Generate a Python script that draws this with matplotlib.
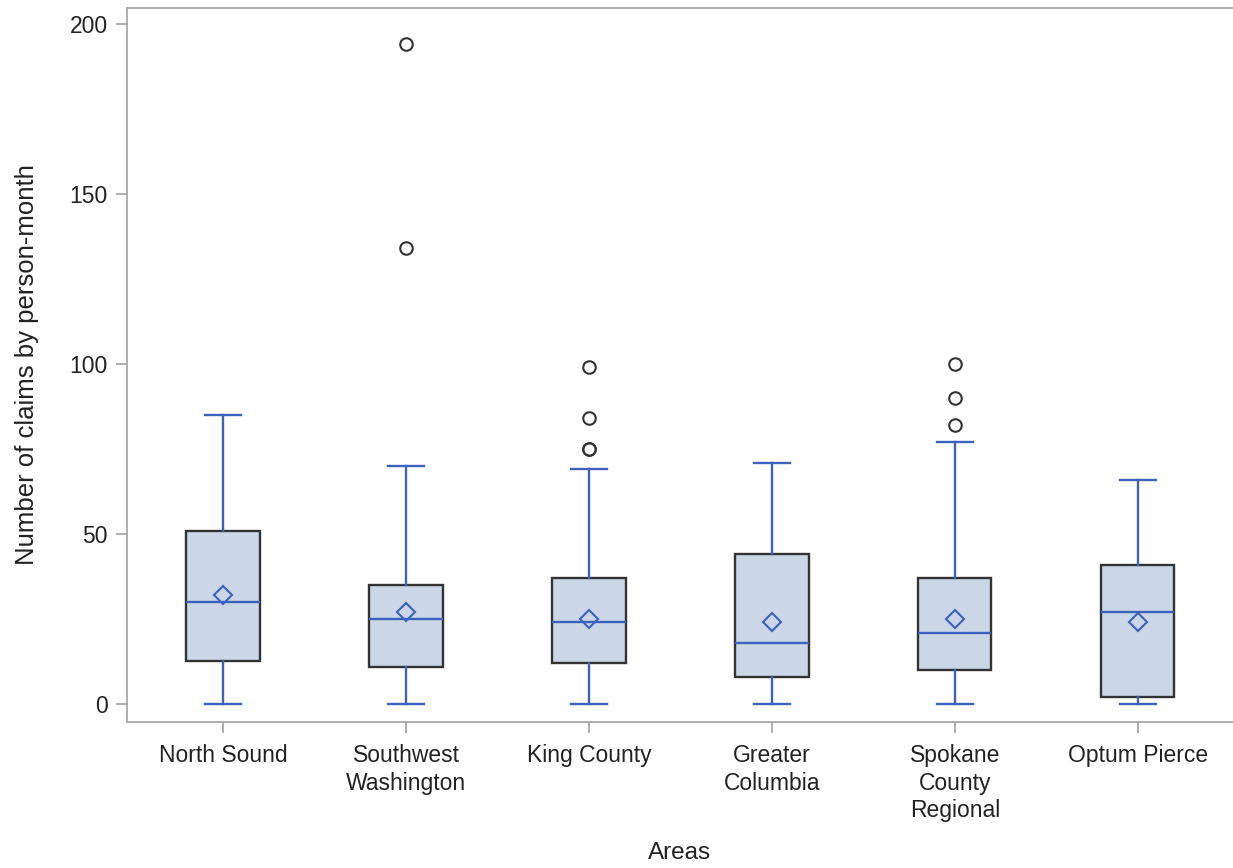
import matplotlib.pyplot as plt

plt.rcParams["font.family"] = ["Liberation Sans", "DejaVu Sans"]

# box statistics
areas = ["North Sound", "Southwest\nWashington", "King County",
         "Greater\nColumbia", "Spokane\nCounty\nRegional", "Optum Pierce"]
whisker_low = [0, 0, 0, 0, 0, 0]
q1 = [12.5, 11, 12, 8, 10, 2]
medians = [30, 25, 24, 18, 21, 27]
q3 = [51, 35, 37, 44, 37, 41]
whisker_high = [85, 70, 69, 71, 77, 66]
means = [32, 27, 25, 24, 25, 24]
outliers = [[], [194, 134], [99, 84, 75, 75], [], [100, 90, 82], []]

box_fill = "#cbd6e6"
box_edge = "#333333"
blue = "#3d62bd"
frame = "#a8a8a8"

stats = []
for i in range(len(areas)):
    stats.append({
        "whislo": whisker_low[i], "q1": q1[i], "med": medians[i],
        "q3": q3[i], "whishi": whisker_high[i], "mean": means[i],
        "fliers": outliers[i],
    })

fig = plt.figure(figsize=(12.33, 8.68), dpi=100)
ax = fig.add_axes([127 / 1233, 1 - 722 / 868, (1233 - 127) / 1233, (722 - 8) / 868])

ax.bxp(
    stats, positions=range(len(areas)), widths=0.4, patch_artist=True,
    showmeans=True, showfliers=True,
    boxprops=dict(facecolor=box_fill, edgecolor=box_edge, linewidth=1.7),
    whiskerprops=dict(color=blue, linewidth=1.7),
    capprops=dict(color=blue, linewidth=1.7),
    capwidths=0.2,
    medianprops=dict(color=blue, linewidth=1.7),
    meanprops=dict(marker="D", markersize=9, markerfacecolor="none",
                   markeredgecolor=blue, markeredgewidth=1.5),
    flierprops=dict(marker="o", markersize=9, markerfacecolor="none",
                    markeredgecolor="#333333", markeredgewidth=1.5),
)

ax.set_xlim(-0.525, 5.52)
ax.set_ylim(-5.3, 204.7)
ax.set_yticks([0, 50, 100, 150, 200])
ax.set_xticks(range(len(areas)))
ax.set_xticklabels(areas, linespacing=1.25, va="top")

ax.spines["right"].set_visible(False)
for side in ["left", "top", "bottom"]:
    ax.spines[side].set_color(frame)
    ax.spines[side].set_linewidth(1.3)
ax.tick_params(axis="both", colors=frame, length=8, width=1.3, labelcolor="#222222",
               labelsize=16.5)
ax.tick_params(axis="x", pad=8)
ax.tick_params(axis="y", pad=6)

ax.set_xlabel("Areas", fontsize=17.5, color="#222222", labelpad=14)
ax.set_ylabel("Number of claims by person-month", fontsize=18.5, color="#222222", labelpad=22)

fig.savefig("out.png", dpi=100)
plt.close(fig)
